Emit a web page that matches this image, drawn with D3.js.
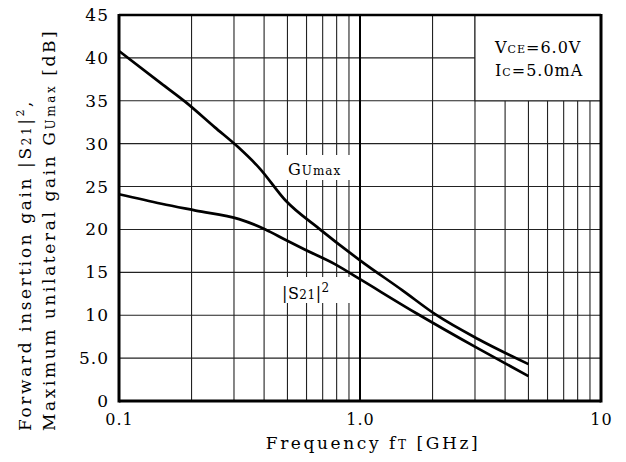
<!DOCTYPE html>
<html lang="en">
  <head>
    <meta charset="utf-8">
    <title>Gain vs Frequency</title>
    <script src="https://cdnjs.cloudflare.com/ajax/libs/d3/7.8.5/d3.min.js"></script>
    <style>
      body { margin: 0; background: #fff; }
      svg text { font-family: "DejaVu Serif", serif; fill: #000; }
      .tick text { font-size: 17px; letter-spacing: 1px; }
      .xaxis .tick text { font-size: 16px; }
      .title { font-size: 17px; letter-spacing: 2.6px; }
      .note { font-size: 16px; letter-spacing: 1px; }
    </style>
  </head>
  <body>
    <div id="graph"></div>
    <script type="text/javascript">
    // values
    const freqGU = [0.1, 0.15, 0.188, 0.25, 0.312, 0.384, 0.49, 0.676, 1.0, 1.5, 2.08, 3.1, 5.0];
    const gainGU = [40.8, 37.0, 34.9, 31.9, 29.6, 27.1, 23.4, 20.1, 16.4, 12.9, 10.0, 7.2, 4.3];
    const freqS21 = [0.1, 0.15, 0.208, 0.315, 0.405, 0.49, 0.595, 0.793, 1.0, 1.72, 3.1, 5.0];
    const gainS21 = [24.1, 23.0, 22.2, 21.2, 20.0, 18.8, 17.6, 15.9, 14.2, 10.2, 6.1, 2.9];

    const yTicks = [0, 5, 10, 15, 20, 25, 30, 35, 40, 45];
    const yTickLabels = ["0", "5.0", "10", "15", "20", "25", "30", "35", "40", "45"];
    const xTicks = [0.1, 1, 10];
    const xTickLabels = ["0.1", "1.0", "10"];
    const xGrid = [0.2, 0.3, 0.4, 0.5, 0.6, 0.7, 0.8, 0.9, 2, 3, 4, 5, 6, 7, 8, 9];

    const w = 626, h = 462;
    const pLeft = 119, pRight = 601, pTop = 15, pBottom = 401;

    const x = d3.scaleLog().domain([0.1, 10]).range([pLeft, pRight]);
    const y = d3.scaleLinear().domain([0, 45]).range([pBottom, pTop]);

    const svg = d3.select("#graph").append("svg")
      .attr("width", w)
      .attr("height", h);

    // grid
    svg.append("g").selectAll("line")
      .data(xGrid)
      .enter().append("line")
      .attr("x1", d => x(d)).attr("x2", d => x(d))
      .attr("y1", pTop).attr("y2", pBottom)
      .attr("stroke", "#222").attr("stroke-width", 1.1);

    svg.append("g").selectAll("line")
      .data(yTicks.slice(1, -1))
      .enter().append("line")
      .attr("x1", pLeft).attr("x2", pRight)
      .attr("y1", d => y(d)).attr("y2", d => y(d))
      .attr("stroke", "#222").attr("stroke-width", 1.1);

    // 1.0 GHz line is heavier
    svg.append("line")
      .attr("x1", x(1)).attr("x2", x(1))
      .attr("y1", pTop).attr("y2", pBottom)
      .attr("stroke", "#000").attr("stroke-width", 2);

    // condition box (top right)
    svg.append("rect")
      .attr("x", x(3)).attr("y", y(45))
      .attr("width", x(10) - x(3)).attr("height", y(35) - y(45))
      .attr("fill", "#fff").attr("stroke", "#222").attr("stroke-width", 1.1);

    const note = svg.append("text").attr("class", "note").attr("x", 495).attr("y", 53);
    note.append("tspan").text("V");
    note.append("tspan").style("font-size", "11px").text("CE");
    note.append("tspan").text("=6.0V");
    const note2 = svg.append("text").attr("class", "note").attr("x", 495).attr("y", 76);
    note2.append("tspan").text("I");
    note2.append("tspan").style("font-size", "11px").text("C");
    note2.append("tspan").text("=5.0mA");

    // curve labels with white backing
    svg.append("rect").attr("x", 286).attr("y", 155).attr("width", 66).attr("height", 25).attr("fill", "#fff");
    svg.append("rect").attr("x", 280).attr("y", 277).attr("width", 72).attr("height", 26).attr("fill", "#fff");

    const lg = svg.append("text").attr("class", "note").attr("x", 288).attr("y", 175);
    lg.append("tspan").text("G");
    lg.append("tspan").style("font-size", "12px").text("Umax");

    const ls = svg.append("text").attr("class", "note").attr("x", 282).attr("y", 299).style("letter-spacing", "0.5px");
    ls.append("tspan").text("|S");
    ls.append("tspan").style("font-size", "12px").text("21");
    ls.append("tspan").text("|");
    ls.append("tspan").style("font-size", "12px").attr("dy", -7).text("2");

    // curves
    const line = d3.line()
      .x(d => x(d[0]))
      .y(d => y(d[1]))
      .curve(d3.curveMonotoneX);

    svg.append("path")
      .datum(d3.zip(freqGU, gainGU))
      .attr("d", line)
      .attr("fill", "none").attr("stroke", "#000").attr("stroke-width", 2.7);

    svg.append("path")
      .datum(d3.zip(freqS21, gainS21))
      .attr("d", line)
      .attr("fill", "none").attr("stroke", "#000").attr("stroke-width", 2.7);

    // frame
    svg.append("line").attr("x1", pLeft).attr("x2", pRight).attr("y1", pTop).attr("y2", pTop)
      .attr("stroke", "#000").attr("stroke-width", 2.5);
    svg.append("line").attr("x1", pLeft).attr("x2", pRight).attr("y1", pBottom).attr("y2", pBottom)
      .attr("stroke", "#000").attr("stroke-width", 3);
    svg.append("line").attr("x1", pLeft).attr("x2", pLeft).attr("y1", pTop - 1).attr("y2", pBottom + 1.5)
      .attr("stroke", "#000").attr("stroke-width", 3);
    svg.append("line").attr("x1", pRight).attr("x2", pRight).attr("y1", pTop - 1).attr("y2", pBottom + 1.5)
      .attr("stroke", "#000").attr("stroke-width", 3);

    // axes
    const yAxis = d3.axisLeft(y)
      .tickValues(yTicks)
      .tickFormat((d, i) => yTickLabels[i])
      .tickSize(0).tickPadding(10);
    svg.append("g")
      .attr("transform", "translate(" + pLeft + ",0)")
      .call(yAxis)
      .call(g => g.select(".domain").remove())
      .selectAll("text").attr("font-family", null).attr("dy", "0.32em");

    const xAxis = d3.axisBottom(x)
      .tickValues(xTicks)
      .tickFormat((d, i) => xTickLabels[i])
      .tickSize(0).tickPadding(13);
    svg.append("g")
      .attr("class", "xaxis")
      .attr("transform", "translate(0," + pBottom + ")")
      .call(xAxis)
      .call(g => g.select(".domain").remove())
      .selectAll("text").attr("font-family", null);

    // axis titles
    const xt = svg.append("text").attr("class", "title")
      .attr("x", 373).attr("y", 449).attr("text-anchor", "middle");
    xt.append("tspan").text("Frequency f");
    xt.append("tspan").style("font-size", "12px").text("T");
    xt.append("tspan").text(" [GHz]");

    const yt1 = svg.append("text").attr("class", "title")
      .attr("transform", "translate(31,431) rotate(-90)");
    yt1.append("tspan").text("Forward insertion gain |S");
    yt1.append("tspan").style("font-size", "12px").text("21");
    yt1.append("tspan").text("|");
    yt1.append("tspan").style("font-size", "11px").attr("dy", -7).text("2");
    yt1.append("tspan").attr("dy", 7).text(",");

    const yt2 = svg.append("text").attr("class", "title")
      .attr("transform", "translate(55,431) rotate(-90)");
    yt2.append("tspan").text("Maximum unilateral gain G");
    yt2.append("tspan").style("font-size", "12px").text("Umax");
    yt2.append("tspan").text(" [dB]");
    </script>
  </body>
</html>
